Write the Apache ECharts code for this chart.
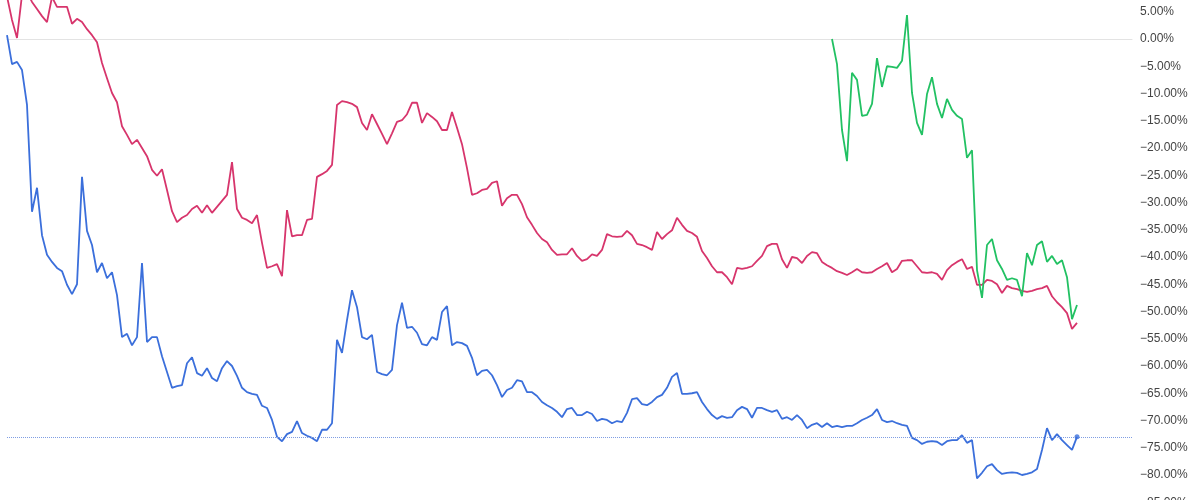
<!DOCTYPE html>
<html>
<head>
<meta charset="utf-8">
<script src="https://cdn.jsdelivr.net/npm/echarts@6/dist/echarts.min.js"></script>
<style>html,body{margin:0;padding:0;background:#fff;}#chart{width:1200px;height:500px;}</style>
</head>
<body>
<div id="chart"></div>
<script>
// Tick label settings (percent)
const yMin = -90, yMax = 10, yStep = 5;
// Hidden x categories (trading days)
const categoryCount = 226;
const categories = Array.from({length: categoryCount}, (_, i) => 'd' + i);

const blueValues = [
  0.7, -4.6, -4.2, -5.7, -12.1, -31.7, -27.3, -36.0, -39.6, -40.9,
  -42.0, -42.6, -45.1, -46.8, -45.0, -25.3, -35.2, -37.8, -42.8, -41.1,
  -43.9, -42.8, -47.0, -54.7, -54.1, -56.2, -54.7, -41.1, -55.6, -54.7,
  -54.7, -58.2, -61.1, -64.0, -63.7, -63.5, -59.5, -58.4, -61.3, -61.8,
  -60.4, -62.2, -62.8, -60.4, -59.1, -60.0, -61.8, -64.0, -64.8, -65.1,
  -65.3, -67.3, -67.7, -69.9, -73.0, -73.8, -72.5, -72.1, -70.1, -72.3,
  -72.8, -73.2, -73.8, -71.7, -71.7, -70.5, -55.2, -57.6, -51.6, -46.1,
  -49.2, -54.7, -55.1, -54.3, -61.1, -61.5, -61.7, -60.7, -52.5, -48.4,
  -53.0, -52.8, -53.9, -56.0, -56.2, -54.7, -55.2, -50.1, -49.0, -56.2,
  -55.6, -55.8, -56.3, -58.5, -61.7, -60.9, -60.7, -61.7, -63.5, -65.7,
  -64.4, -64.0, -62.6, -62.8, -64.8, -64.8, -65.5, -66.6, -67.2, -67.7,
  -68.4, -69.4, -67.9, -67.7, -69.0, -69.0, -68.4, -68.8, -70.1, -69.7,
  -69.9, -70.5, -70.1, -70.3, -68.6, -66.1, -65.9, -67.0, -67.2, -66.6,
  -65.7, -65.3, -64.0, -62.0, -61.3, -65.1, -65.1, -65.0, -64.8, -66.6,
  -67.9, -69.0, -69.7, -69.2, -69.5, -69.4, -68.1, -67.5, -67.9, -69.5,
  -67.7, -67.7, -68.1, -68.4, -68.1, -69.7, -69.4, -69.9, -69.0, -69.9,
  -71.4, -70.8, -70.5, -71.2, -70.5, -71.2, -71.0, -71.2, -71.0, -71.0,
  -70.5, -69.9, -69.5, -69.0, -67.9, -69.9, -70.3, -70.1, -70.5, -70.8,
  -71.0, -73.2, -73.6, -74.3, -73.9, -73.8, -73.9, -74.5, -73.8, -73.6,
  -73.6, -72.7, -74.1, -73.6, -80.6, -79.6, -78.4, -78.0, -79.1, -79.8,
  -79.6, -79.5, -79.6, -80.0, -79.8, -79.5, -78.9, -75.4, -71.4, -73.6,
  -72.5, -73.6, -74.5, -75.4, -73.0
];

const redValues = [
  7.8, 3.5, 0.2, 8.1, 8.6, 6.8, 5.5, 4.2, 3.1, 7.7,
  5.9, 5.9, 5.9, 2.8, 3.7, 3.1, 1.8, 0.7, -0.6, -4.4,
  -7.2, -9.9, -11.6, -16.0, -17.6, -19.3, -18.5, -20.0, -21.5, -24.0,
  -25.1, -23.9, -27.7, -31.6, -33.6, -32.8, -32.3, -31.2, -30.6, -31.9,
  -30.5, -31.9, -30.8, -29.7, -28.6, -22.6, -31.2, -32.8, -33.2, -33.8,
  -32.3, -37.4, -42.0, -41.7, -41.3, -43.5, -31.4, -36.2, -36.0, -36.0,
  -33.2, -33.0, -25.3, -24.8, -24.2, -23.1, -12.1, -11.4, -11.6, -11.9,
  -12.5, -15.4, -16.7, -13.8, -15.6, -17.4, -19.3, -17.3, -15.2, -14.9,
  -13.8, -11.7, -11.7, -15.4, -13.6, -14.3, -15.1, -16.7, -16.7, -13.4,
  -16.3, -19.3, -23.7, -28.6, -28.3, -27.7, -27.5, -26.4, -26.1, -30.6,
  -29.2, -28.6, -28.6, -30.3, -32.7, -34.1, -35.6, -36.7, -37.3, -38.7,
  -39.6, -39.5, -39.5, -38.4, -39.8, -40.7, -40.4, -39.5, -39.8, -38.7,
  -35.8, -36.2, -36.3, -36.2, -35.2, -36.0, -37.6, -37.8, -38.2, -38.7,
  -35.4, -36.7, -35.8, -35.1, -32.8, -34.1, -35.2, -35.6, -36.3, -38.9,
  -40.2, -41.7, -42.8, -42.8, -43.7, -45.0, -42.0, -42.2, -42.0, -41.7,
  -40.7, -39.8, -38.0, -37.6, -37.6, -40.4, -42.0, -40.0, -40.2, -41.1,
  -39.8, -39.1, -39.3, -40.9, -41.5, -42.0, -42.6, -42.9, -43.3, -42.8,
  -42.2, -42.8, -42.9, -42.8, -42.2, -41.7, -41.1, -42.8, -42.2, -40.7,
  -40.6, -40.6, -41.7, -42.8, -42.9, -42.8, -43.1, -44.2, -42.4, -41.5,
  -40.9, -40.4, -42.2, -41.8, -45.1, -45.1, -44.2, -44.4, -45.0, -46.6,
  -45.3, -45.7, -45.9, -46.2, -46.4, -46.2, -45.9, -45.7, -45.3, -47.2,
  -48.3, -49.2, -50.3, -53.2, -52.1
];

// Green series starts later (first value at category index greenStart)
const greenStart = 165;
const greenValues = [
  0.0, -4.6, -16.7, -22.4, -6.2, -7.5, -14.1, -13.9, -11.9, -3.5,
  -8.8, -5.0, -5.1, -5.3, -4.0, 4.4, -9.9, -15.4, -17.6, -10.1,
  -7.0, -11.9, -14.5, -11.0, -13.0, -14.1, -14.7, -21.8, -20.4, -42.4,
  -47.5, -37.8, -36.7, -40.6, -42.2, -44.2, -43.9, -44.2, -47.2, -39.3,
  -41.5, -37.8, -37.1, -40.9, -39.8, -41.3, -40.6, -43.7, -51.4, -48.8
];

const BLUE = '#3b6fdb', RED = '#d7356c', GREEN = '#22c163';

const greenData = new Array(greenStart).fill(null).concat(greenValues);
const lastIndex = blueValues.length - 1;
const lastBlue = blueValues[lastIndex];

const fmt = v => (v < 0 ? '\u2212' + Math.abs(v).toFixed(2) : v.toFixed(2)) + '%';

const chart = echarts.init(document.getElementById('chart'), null, {renderer: 'canvas'});
chart.setOption({
  animation: false,
  backgroundColor: '#ffffff',
  grid: {left: 7, right: 68, top: -15.5, height: 545, containLabel: false, outerBoundsMode: 'none'},
  xAxis: {
    type: 'category',
    data: categories,
    boundaryGap: false,
    axisLine: {show: true, onZero: true, lineStyle: {color: '#e3e3e3', width: 1}},
    axisTick: {show: false},
    axisLabel: {show: false},
    splitLine: {show: false}
  },
  yAxis: {
    type: 'value',
    position: 'right',
    min: yMin, max: yMax, interval: yStep,
    axisLine: {show: false},
    axisTick: {show: false},
    splitLine: {show: false},
    axisLabel: {
      margin: 8,
      color: '#444',
      fontSize: 12,
      fontFamily: 'Liberation Sans, Arial, Helvetica, sans-serif',
      formatter: fmt
    }
  },
  series: [
    {
      name: 'Red', type: 'line', data: redValues, symbol: 'none',
      lineStyle: {color: RED, width: 1.8}, itemStyle: {color: RED}, z: 3
    },
    {
      name: 'Green', type: 'line', data: greenData, symbol: 'none',
      lineStyle: {color: GREEN, width: 1.8}, itemStyle: {color: GREEN}, z: 3
    },
    {
      name: 'Blue', type: 'line', data: blueValues, symbol: 'none',
      lineStyle: {color: BLUE, width: 1.8}, itemStyle: {color: BLUE}, z: 4,
      markLine: {
        silent: true, symbol: ['none', 'none'], label: {show: false},
        lineStyle: {color: '#7f9de3', type: 'dotted', width: 1},
        data: [{yAxis: lastBlue}]
      }
    },
    {
      name: 'BlueLast', type: 'scatter', data: [[lastIndex, lastBlue]],
      symbol: 'circle', symbolSize: 5, itemStyle: {color: BLUE}, z: 5, silent: true
    }
  ]
});
</script>
</body>
</html>
